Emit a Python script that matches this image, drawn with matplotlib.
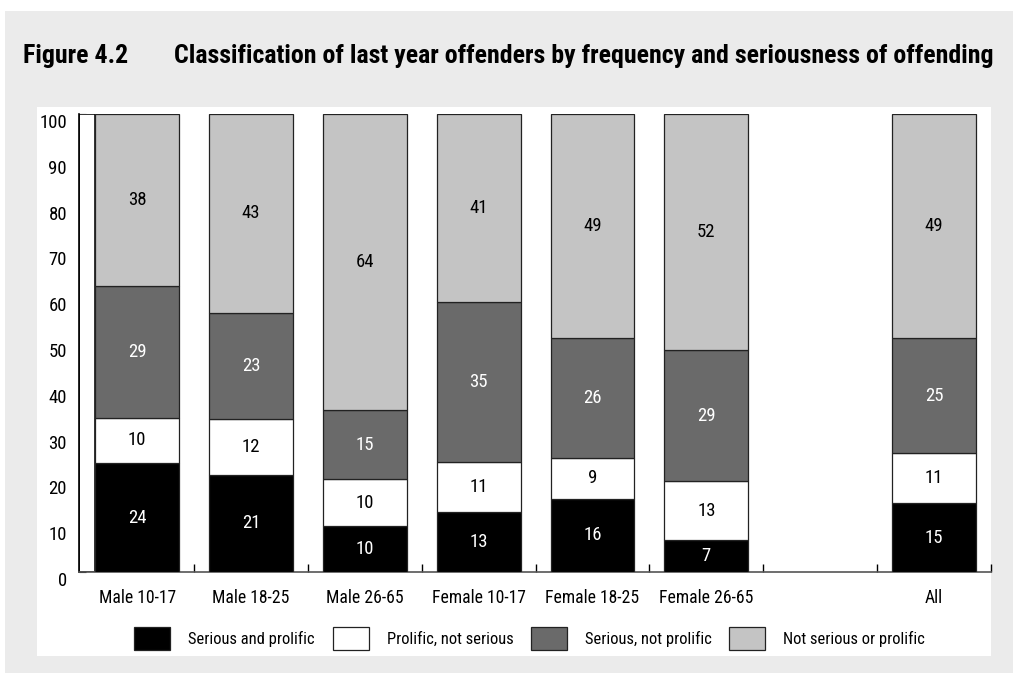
import matplotlib
matplotlib.use('Agg')
import matplotlib.pyplot as plt
from matplotlib.patches import Rectangle, Patch
from matplotlib import font_manager as fm
import matplotlib.transforms as mtransforms
import numpy as np

# ---------------- data ----------------
categories = ['Male 10-17', 'Male 18-25', 'Male 26-65', 'Female 10-17',
              'Female 18-25', 'Female 26-65', 'All']
serious_prolific = [24, 21, 10, 13, 16, 7, 15]
prolific_not_serious = [10, 12, 10, 11, 9, 13, 11]
serious_not_prolific = [29, 23, 15, 35, 26, 29, 25]
not_serious_or_prolific = [38, 43, 64, 41, 49, 52, 49]
series_labels = ['Serious and prolific', 'Prolific, not serious',
                 'Serious, not prolific', 'Not serious or prolific']
y_ticks = [0, 10, 20, 30, 40, 50, 60, 70, 80, 90, 100]

title_num = 'Figure 4.2'
title_text = 'Classification of last year offenders by frequency and seriousness of offending'

# ---------------- style ----------------
colors = ['#000000', '#ffffff', '#6a6a6a', '#c4c4c4']
text_colors = ['white', 'black', 'white', 'black']

available = {f.name for f in fm.fontManager.ttflist}
def pick(cands):
    for c in cands:
        if c in available:
            return c
    return 'DejaVu Sans'

TITLE_FONT = [pick(['Roboto Condensed', 'Archivo Narrow', 'IBM Plex Sans Condensed']), 'DejaVu Sans']
BODY_FONT = [pick(['Roboto Condensed', 'IBM Plex Sans Condensed', 'Archivo Narrow']), 'DejaVu Sans']
plt.rcParams['font.family'] = BODY_FONT

W, H = 1013, 673
fig = plt.figure(figsize=(W / 100, H / 100), dpi=100, facecolor='white')
renderer = fig.canvas.get_renderer()

def fx(px):
    return px / W

def fy(py):
    return 1 - py / H

def fit_size(s, target_px, base=12, **kw):
    t = fig.text(0, 0, s, fontsize=base, **kw)
    w = t.get_window_extent(renderer).width
    t.remove()
    return base * target_px / w

# backgrounds
fig.patches.append(Rectangle((fx(5), 0), 1 - fx(5), fy(11), transform=fig.transFigure,
                             facecolor='#ebebeb', edgecolor='none', zorder=-10))
fig.patches.append(Rectangle((fx(37), fy(656)), fx(991) - fx(37), fy(107) - fy(656),
                             transform=fig.transFigure, facecolor='white',
                             edgecolor='none', zorder=-9))

# title
ts = fit_size(title_text, 822, family=TITLE_FONT, fontweight='bold')
fig.text(fx(23), fy(63), title_num, fontsize=ts, fontweight='bold', ha='left',
         va='baseline', family=TITLE_FONT)
fig.text(fx(174), fy(63), title_text, fontsize=ts, fontweight='bold', ha='left',
         va='baseline', family=TITLE_FONT)

# axes
left, right, bottom, top = 79, 991, 572, 114
ax = fig.add_axes([fx(left), fy(bottom), fx(right) - fx(left), fy(top) - fy(bottom)])
ax.set_facecolor('none')

xpos = np.array([0, 1, 2, 3, 4, 5, 7], dtype=float)
bar_w = 0.737

series = np.array([serious_prolific, prolific_not_serious,
                   serious_not_prolific, not_serious_or_prolific], dtype=float)
totals = series.sum(axis=0)
shares = series / totals * 100.0

bottoms = np.zeros(len(categories))
for i in range(4):
    ax.bar(xpos, shares[i], bar_w, bottom=bottoms, color=colors[i],
           edgecolor='#222222', linewidth=0.9, zorder=3)
    for j in range(len(categories)):
        ax.text(xpos[j], bottoms[j] + shares[i][j] / 2, f'{int(series[i][j])}',
                ha='center', va='center', fontsize=13.5, color=text_colors[i],
                fontweight='normal', zorder=4)
    bottoms += shares[i]

# 3-D style wall on the left
x_left = -0.51
ax.add_patch(Rectangle((x_left, 0), -bar_w / 2 - x_left, 100, facecolor='white',
                       edgecolor='#111111', linewidth=1.2, zorder=2))

ax.set_xlim(x_left, 7.5)
ax.set_ylim(0, 100)

for s in ['top', 'right']:
    ax.spines[s].set_visible(False)
ax.spines['left'].set_linewidth(1.2)
ax.spines['bottom'].set_linewidth(1.2)
ax.spines['bottom'].set_color('#555555')

ax.set_yticks(y_ticks)
ax.set_yticklabels([str(v) for v in y_ticks], fontsize=13.5, fontweight='normal')
ax.tick_params(axis='y', direction='in', length=5, width=0.8, pad=8.6)
offset = mtransforms.ScaledTranslation(0, -7 / 100, fig.dpi_scale_trans)
for lab in ax.get_yticklabels():
    lab.set_transform(lab.get_transform() + offset)

xs = fit_size('Male 10-17', 77, fontweight='normal')
ax.set_xticks(xpos)
ax.set_xticklabels(categories, fontsize=xs, fontweight='normal')
ax.tick_params(axis='x', which='major', length=0, pad=12)
ax.set_xticks(np.arange(0.5, 7.6, 1.0), minor=True)
ax.tick_params(axis='x', which='minor', direction='in', length=6, width=1)

# legend: one entry per anchor position
ls = fit_size(series_labels[0], 126, fontweight='normal')
fpx = ls * 100 / 72
patch_x = [134, 333, 531, 729]
for i in range(4):
    h = Patch(facecolor=colors[i], edgecolor='#222222', linewidth=0.9)
    fig.legend([h], [series_labels[i]], loc='upper left',
               bbox_to_anchor=(fx(patch_x[i]), fy(627)), frameon=False,
               prop={'size': ls, 'weight': 'normal'}, borderpad=0, borderaxespad=0,
               handlelength=36 / fpx, handleheight=29 / fpx,
               handletextpad=18 / fpx)

fig.savefig('out.png', dpi=100, facecolor=fig.get_facecolor())
